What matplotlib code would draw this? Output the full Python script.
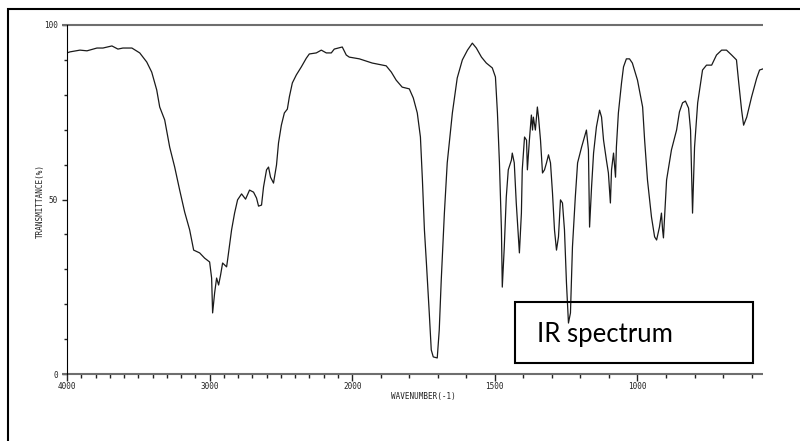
import numpy as np
import matplotlib
matplotlib.use("Agg")
import matplotlib.pyplot as plt
from matplotlib.patches import Rectangle

# spectrum: wavenumber (cm-1) and transmittance (%)
wavenumber = [4000, 3979, 3909, 3860, 3790, 3748, 3685, 3643, 3608, 3545,
              3490, 3441, 3406, 3371, 3350, 3315, 3280, 3245, 3210, 3175,
              3140, 3112, 3070, 3035, 3000, 2986, 2979, 2965, 2951, 2937,
              2923, 2909, 2881, 2874, 2846, 2825, 2804, 2776, 2748, 2720,
              2692, 2671, 2657, 2636, 2622, 2601, 2587, 2573, 2552, 2531,
              2517, 2497, 2476, 2455, 2441, 2420, 2392, 2357, 2322, 2301,
              2252, 2217, 2182, 2147, 2126, 2070, 2042, 2021, 1975, 1930,
              1881, 1863, 1846, 1825, 1800, 1786, 1772, 1761, 1754, 1747,
              1740, 1730, 1723, 1716, 1702, 1695, 1688, 1677, 1667, 1649,
              1632, 1614, 1596, 1579, 1565, 1547, 1530, 1509, 1498, 1491,
              1484, 1477, 1474, 1467, 1460, 1453, 1442, 1439, 1432, 1425,
              1414, 1407, 1404, 1396, 1389, 1386, 1379, 1372, 1368, 1365,
              1358, 1351, 1347, 1340, 1333, 1326, 1319, 1312, 1305, 1298,
              1291, 1284, 1277, 1270, 1263, 1256, 1249, 1242, 1235, 1228,
              1218, 1210, 1196, 1186, 1179, 1172, 1168, 1161, 1154, 1144,
              1133, 1126, 1119, 1109, 1102, 1095, 1091, 1084, 1077, 1074,
              1067, 1056, 1049, 1039, 1028, 1018, 1000, 982, 975, 965,
              951, 940, 933, 923, 916, 912, 909, 898, 881, 863,
              853, 842, 832, 821, 814, 810, 807, 800, 789, 772,
              758, 740, 723, 705, 688, 670, 653, 645, 635, 628,
              617, 600, 582, 572, 561]
transmittance = [92.0, 92.3, 92.8, 92.6, 93.4, 93.4, 94.0, 93.1, 93.4, 93.4,
                 92.0, 89.4, 86.5, 81.4, 76.5, 72.8, 65.0, 59.3, 52.7, 46.4,
                 41.3, 35.5, 34.7, 33.2, 32.1, 27.5, 17.5, 23.2, 27.5, 25.5,
                 28.4, 31.8, 30.7, 32.7, 41.3, 46.1, 49.9, 51.6, 50.1, 52.7,
                 52.1, 50.4, 48.1, 48.4, 53.6, 58.5, 59.3, 56.4, 54.7, 59.9,
                 66.2, 71.3, 74.8, 75.9, 79.4, 83.4, 85.7, 88.0, 90.5, 91.7,
                 92.0, 92.8, 92.0, 92.0, 93.1, 93.7, 91.4, 90.8, 90.3, 89.1,
                 88.3, 86.5, 84.2, 82.2, 81.7, 79.1, 74.8, 67.9, 55.6, 41.3,
                 31.8, 17.5, 6.9, 4.9, 4.6, 12.6, 26.9, 46.1, 60.5, 74.8,
                 84.8, 90.0, 92.8, 94.8, 93.4, 90.8, 89.1, 87.7, 85.1, 74.8,
                 60.5, 41.3, 24.9, 36.4, 50.7, 58.5, 61.3, 63.3, 60.5, 49.0,
                 34.7, 46.1, 58.5, 67.9, 67.0, 58.5, 67.0, 74.2, 69.9, 73.6,
                 69.9, 76.5, 73.6, 67.0, 57.6, 58.5, 60.5, 62.8, 60.5, 51.9,
                 41.3, 35.5, 39.3, 49.9, 49.0, 41.3, 26.1, 14.6, 17.5, 36.4,
                 50.7, 60.5, 65.0, 67.9, 69.9, 64.2, 42.1, 53.6, 63.3, 70.8,
                 75.6, 73.6, 67.0, 61.3, 57.6, 49.0, 58.5, 63.3, 56.4, 65.0,
                 74.8, 83.4, 88.0, 90.3, 90.3, 89.1, 84.2, 76.5, 67.0, 55.6,
                 45.0, 39.3, 38.4, 42.1, 46.1, 41.3, 39.0, 55.6, 64.2, 69.9,
                 75.1, 77.7, 78.2, 76.2, 69.9, 55.6, 46.1, 65.0, 77.7, 87.1,
                 88.5, 88.5, 91.4, 92.8, 92.8, 91.4, 90.0, 83.4, 75.6, 71.3,
                 73.6, 79.4, 84.8, 87.1, 87.4]

x_major = [4000, 3000, 2000, 1500, 1000]
x_labels = ["4000", "3000", "2000", "1500", "1000"]
y_major = [0, 50, 100]
y_labels = ["0", "50", "100"]


# the instrument plots 4000-2000 at half the scale of 2000-down
def fwd(w):
    w = np.asarray(w, dtype=float)
    return np.where(w >= 2000, (w - 2000) / 2000.0, (w - 2000) / 1000.0)


def inv(p):
    p = np.asarray(p, dtype=float)
    return np.where(p >= 0, 2000 + p * 2000.0, 2000 + p * 1000.0)


fig = plt.figure(figsize=(8, 4.41), dpi=100)
ax = fig.add_axes([67 / 800, 67 / 441, 696 / 800, 349 / 441])
ax.set_xscale("function", functions=(fwd, inv))
ax.plot(wavenumber, transmittance, color="#1a1a1a", lw=0.9)
ax.set_xlim(4000, 560)
ax.set_ylim(0, 100)

for s in ["top", "right", "bottom"]:
    ax.spines[s].set_visible(False)
ax.spines["left"].set_linewidth(0.8)
ax.spines["left"].set_color("black")

# gray baseline and 100% line, a little past the left spine
gray = "#6e6e6e"
ax.plot([-0.007, 1], [0, 0], transform=ax.transAxes, color=gray, lw=1.5,
        clip_on=False, solid_capstyle="butt")
ax.plot([-0.007, 1], [1, 1], transform=ax.transAxes, color=gray, lw=1.5,
        clip_on=False, solid_capstyle="butt")

minor_x = [w for w in range(600, 4000, 100) if w not in x_major]
ax.set_xticks(x_major)
ax.set_xticklabels(x_labels)
ax.set_xticks(minor_x, minor=True)
ax.set_yticks(y_major)
ax.set_yticklabels(y_labels)
ax.set_yticks([10, 20, 30, 40, 60, 70, 80, 90], minor=True)

for lab in ax.get_xticklabels() + ax.get_yticklabels():
    lab.set_fontfamily("DejaVu Sans Mono")
    lab.set_fontsize(5.5)
    lab.set_color("#222222")
ax.tick_params(axis="x", which="major", length=5, width=1, pad=1, color="#222222")
ax.tick_params(axis="x", which="minor", length=3, width=1, color="#222222")
ax.tick_params(axis="y", which="major", length=3.6, width=1, pad=3, color="#222222")
ax.tick_params(axis="y", which="minor", length=2.2, width=1, color="#222222")

fig.text(40 / 800, (441 - 201) / 441, "TRANSMITTANCE(%)", rotation=90,
         ha="center", va="center", family="DejaVu Sans Mono", fontsize=5.5,
         color="#222222")
fig.text(423 / 800, (441 - 397) / 441, "WAVENUMBER(-1)", ha="center",
         va="center", family="DejaVu Sans Mono", fontsize=5.5, color="#222222")

# outer frame, cut off at the right and bottom edges
fig.patches.append(Rectangle((8 / 800, -0.05), 1.2, (441 - 9) / 441 + 0.05,
                             transform=fig.transFigure, fill=False,
                             edgecolor="black", lw=1.5))

# label box
fig.patches.append(Rectangle((515 / 800, (441 - 363) / 441), 238 / 800,
                             61 / 441, transform=fig.transFigure, fill=False,
                             edgecolor="black", lw=1.5))
fig.text(537 / 800, (441 - 342) / 441, "IR spectrum", family="Lato",
         fontsize=18.5, ha="left", va="baseline", color="black")

fig.savefig("out.png", dpi=100)
